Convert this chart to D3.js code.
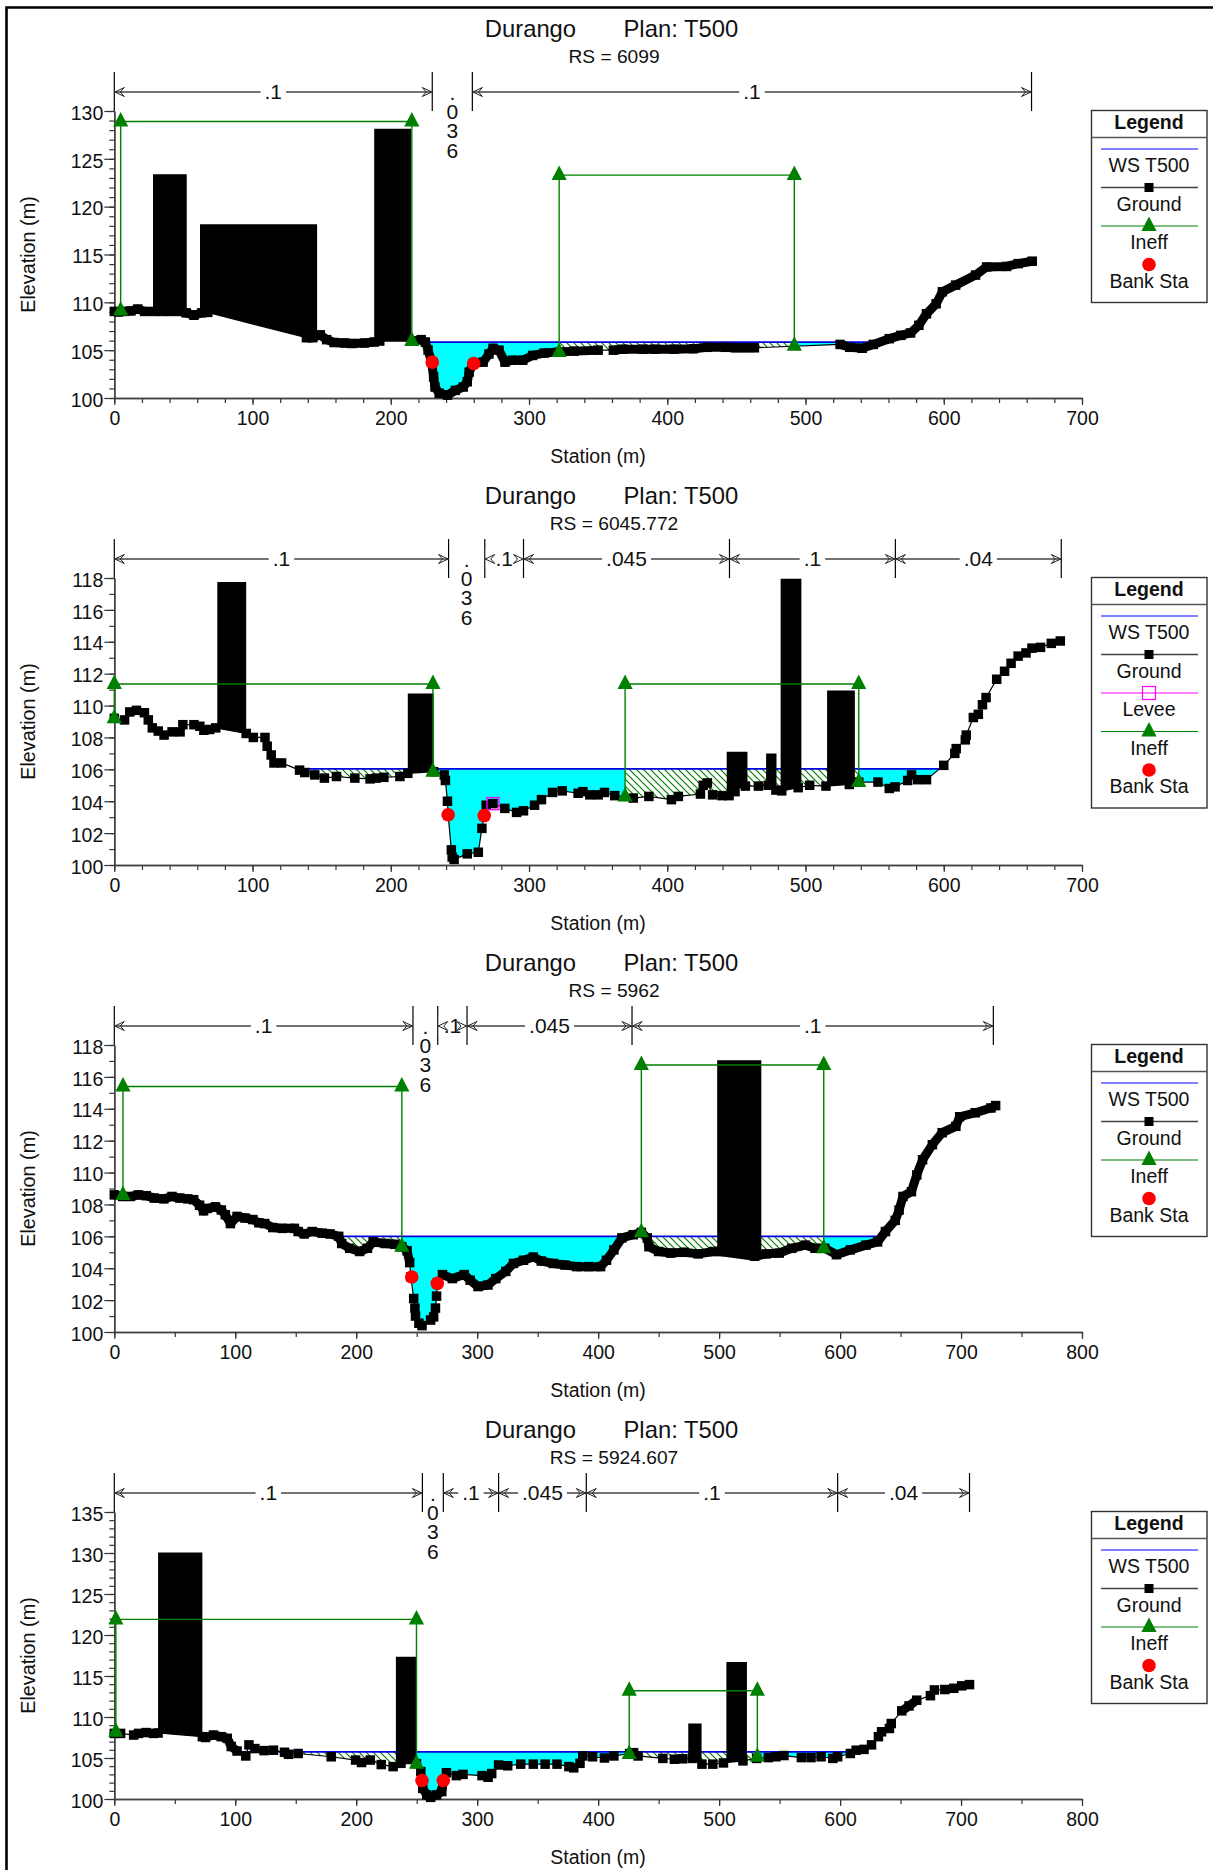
<!DOCTYPE html>
<html><head><meta charset="utf-8">
<script src="https://cdn.jsdelivr.net/npm/d3@7/dist/d3.min.js"></script>
<style>html,body{margin:0;padding:0;background:#fff}svg{display:block}text{font-family:"Liberation Sans",Arial,sans-serif;fill:#111}</style>
</head><body><svg id="c" width="1213" height="1870"></svg>
<script>
// ---------- data (station m, elevation m) ----------
const rsLabels = ["6099","6045.772","5962","5924.607"];
const xMax = [700,700,800,800];
const yMax = [130,118,118,135];
const yMajorStep = [5,2,2,5];
const xMinorStep = [20,20,50,50];
const wsElev = [105.85,106.03,106.0,105.75];
const wsSpans = [[[158,184],[215,555]],[[132,597]],[[185.5,634]],[[105.5,612]]];
const ground1 = [[0,109.05],[3,109],[7,109.05],[12,109.1],[17,109.3],[22,109.05],[29,109.05],[35,109.05],[41,109.05],[47.6,109.05],[52,108.9],[57.6,108.65],[63.3,108.9],[67.6,108.95],[139,106.3],[143.5,106.3],[149,106.6],[153.6,106.1],[159,105.8],[166.5,105.75],[172,105.7],[181,105.75],[188,105.85],[192,105.95],[215,105.95],[222,106.1],[225,105.85],[227,105],[229.5,103.75],[231,102.2],[232,101.15],[235,100.5],[241,100.3],[246.7,100.8],[252.4,101.15],[255.3,101.7],[256.7,102.7],[259.6,103.6],[266.8,103.75],[271,104.6],[274,105.2],[278.3,105],[282.6,103.75],[288,103.95],[295.5,103.95],[302.6,104.45],[311,104.7],[321.8,104.8],[332.7,104.9],[350,105],[361,105],[368,105.1],[382.5,105.1],[391,105.1],[405,105.1],[419,105.15],[429,105.3],[442,105.3],[449,105.25],[456,105.25],[463,105.25],[525,105.6],[532,105.3],[541,105.2],[549,105.6],[560.6,106.2],[569,106.55],[576,106.8],[582,107.6],[587.5,108.8],[594.5,109.85],[599,111.1],[608.6,111.8],[623,112.85],[631,113.7],[645.4,113.75],[653.9,114.05],[664,114.3]];
const ground2 = [[0,109.2],[7.4,109.1],[11.2,109.6],[16,109.7],[21.8,109.55],[24.6,109.1],[27.5,108.6],[31.8,108.4],[36,108.15],[41.8,108.35],[47.6,108.35],[49.6,108.8],[57.6,108.8],[61.9,108.7],[64.8,108.45],[69,108.5],[73.4,108.6],[95.4,108.25],[100.6,108],[109,108],[110.6,107.45],[113.5,106.9],[115.5,106.4],[121,106.4],[134,105.95],[137.8,105.8],[145,105.65],[152,105.45],[160.7,105.55],[174,105.45],[185,105.4],[189.4,105.45],[195,105.5],[206.6,105.55],[212.3,105.75],[231,105.85],[238.7,105.65],[239.5,105.3],[241,104],[241.5,103.15],[243.8,100.95],[244.4,100.5],[245.8,100.35],[255.3,100.7],[263.3,100.8],[265.9,102.3],[267.6,103.1],[269,103.75],[273.9,103.85],[282.5,103.55],[291,103.3],[296,103.4],[304,103.75],[309,104.1],[317,104.55],[324,104.65],[335.5,104.5],[339,104.6],[344,104.4],[350,104.4],[354.6,104.55],[362,104.35],[375.4,104.2],[386.7,104.3],[403,104.1],[408,104.3],[424,104.45],[426,105],[429,105.15],[432.8,104.4],[439.6,104.35],[444.7,104.35],[449,104.6],[451,105.1],[456.5,104.95],[465.9,104.95],[473,105],[478.6,104.7],[482.8,104.65],[494.7,104.85],[503,105],[514.8,104.95],[531.7,105.05],[538.5,105.2],[552.4,105.2],[560.6,104.8],[564.8,104.9],[573.9,105.3],[576.7,105.65],[581.2,105.35],[587.5,105.35],[600,106.25],[608,107],[609,107.3],[615.6,107.85],[616.3,108.15],[621.4,109.25],[625,109.45],[628,110.05],[630.6,110.5],[638.3,111.65],[644,112.15],[648.7,112.65],[653.8,113.1],[659.5,113.3],[663.8,113.6],[670,113.65],[677.8,113.9],[684.3,114.05]];
const ground3 = [[0,108.6],[6.9,108.5],[13.4,108.5],[19.9,108.6],[26.4,108.55],[33,108.4],[41,108.35],[47.7,108.5],[54.2,108.4],[60.7,108.35],[65.6,108.3],[70.5,107.95],[73.8,107.6],[77,107.75],[83.6,107.85],[88.5,107.65],[91.8,107.35],[96,106.8],[101.5,107.25],[108,107.15],[114.6,107.05],[119.5,106.85],[124.4,106.8],[131,106.55],[139,106.5],[148.9,106.5],[152,106.3],[157,106.15],[163.6,106.3],[171.8,106.2],[178.3,106.15],[185.5,106],[188,105.55],[194.6,105.25],[202.8,105.05],[209.3,105.25],[214,105.65],[224,105.55],[232,105.5],[237.7,105.35],[242,105.1],[244.2,104.35],[245.2,103.45],[247.5,102.1],[248.5,101.5],[249,101],[251.8,100.55],[254.4,100.4],[261.5,100.75],[264,100.95],[265.5,101.5],[266.4,102.25],[267,103.05],[271.3,103.6],[279.5,103.35],[289.3,103.6],[294.2,103.25],[300.7,102.85],[308.9,102.95],[315.4,103.35],[323.6,103.8],[330,104.3],[338.3,104.5],[346.4,104.7],[353,104.45],[362.8,104.3],[372.6,104.2],[382.4,104.1],[392.2,104.1],[402,104.1],[406.9,104.5],[413,105.15],[419.6,105.9],[429,106.1],[435.7,106.25],[440.6,105.9],[442,105.35],[450,105.05],[460,104.95],[471,105],[482.7,104.9],[495.5,105.05],[500,105.05],[529.4,104.75],[539,104.9],[549.7,104.95],[560,105.25],[571.4,105.45],[579.4,105.25],[587.4,105.25],[597,104.85],[608.5,105.15],[621.4,105.45],[631,105.65],[637.5,106.3],[645.6,107],[648.8,107.65],[652,108.5],[659,108.8],[663.4,109.85],[668.2,110.8],[676.3,111.75],[684.4,112.5],[695.7,112.9],[698.9,113.5],[711.8,113.75],[724.7,114.05],[728.6,114.2]];
const ground4 = [[0,108],[5.2,108],[16,107.8],[20,108],[26.4,108.1],[32.3,108],[36.2,108.05],[72.8,107.6],[75.4,107.5],[82,107.8],[88.5,107.6],[93.4,107.4],[96.7,106.4],[101.5,105.85],[108.7,105.25],[111.3,106.6],[116.2,106.15],[123.8,105.9],[131.6,105.95],[140.7,105.7],[144,105.45],[152,105.55],[179.3,105.15],[199.5,104.75],[204.4,104.45],[211.6,104.75],[220.7,104.2],[230.5,103.95],[237,104.35],[249.8,104.3],[253.4,103.35],[254.4,102.25],[255,101.3],[258.3,100.5],[261.5,100.2],[266.4,100.5],[270.7,100.9],[272,102.25],[274.6,103.2],[282.8,102.85],[288.3,103],[304,102.85],[309,102.65],[312,103.1],[317.7,104.15],[325.2,104.05],[336,104.25],[346.4,104.25],[356.2,104.25],[366,104.25],[375.8,103.95],[379.8,103.8],[385,104.35],[387.3,105.25],[395.4,105.15],[405.2,105],[413,105.25],[426,105.55],[429.3,105.65],[433,105.25],[453.5,104.95],[463,104.85],[469.6,104.9],[477.7,104.95],[485.8,104.25],[494.8,104.25],[503.6,104.4],[519.7,104.65],[531,104.95],[540.7,105.05],[547,105.15],[553.6,105.3],[568,105.05],[576,105.05],[584.3,105.15],[594,104.95],[598,105.15],[608.5,105.55],[613.3,105.95],[619.8,106.05],[626,106.6],[631.7,107.6],[634.3,108.2],[640.8,108.6],[642.3,109.2],[651,110.75],[657,111.35],[663.4,112.05],[674.7,112.6],[678,113.3],[686.6,113.35],[694,113.5],[700.5,113.8],[707,113.95]];
const grounds = [ground1,ground2,ground3,ground4];
// continuous runs of overlapping ground points (stations)
const denseRuns = [[[0,67.6],[139,188],[215,350],[361,463],[525,664]],[],[[0,244.2],[271.3,402],[402,442],[442,728.6]],[[75.4,101.5],[254.4,272],[651,663.4]]];
// blocked obstructions: station from, station to, top elevation
const blocks = [
 [[28,52.4,123.4],[62,146.7,118.15],[188,214.6,128.15]],
 [[74.5,95.4,117.75],[212.3,231,110.75],[443,458,107.1],[471.5,479,107],[482,497,117.95],[515.6,535.7,110.95]],
 [[498.4,534.9,117.05]],
 [[36.2,72.8,130.05],[232.8,249.8,117.35],[474.5,485.5,109.2],[506,523,116.7]]
];
// ineffective flow: station left, station right, top, ground left, ground right
const ineff = [
 [[4.6,215.2,128.9,109.15,105.95],[321.8,491.9,123.3,104.8,105.45]],
 [[0,230.5,111.35,109.2,105.85],[369.5,538.5,111.35,104.3,105.2]],
 [[7.2,237.7,115.4,108.6,105.35],[435.7,586.5,116.75,106.25,105.25]],
 [[1.3,249.8,121.9,108.2,104.3],[425.7,531.6,113.2,105.5,105.15]]
];
const bankSta = [[[230,103.75],[260,103.6]],[[241.5,103.15],[267.6,103.1]],[[245.9,103.45],[267,103.05]],[[254.4,102.25],[272,102.25]]];
const levee = [[],[[273.9,103.85]],[],[]];
const nStations = [[0,230,259,663.5],[0,241.8,268,296,445,565,685],[0,246.9,267.4,291.6,428,726.7],[0,254.7,272,317.7,390.2,598,707]];
const nValues = [[".1",".036",".1"],[".1",".036",".1",".045",".1",".04"],[".1",".036",".1",".045",".1"],[".1",".036",".1",".045",".1",".04"]];
const legendItems = [["WS T500","Ground","Ineff","Bank Sta"],["WS T500","Ground","Levee","Ineff","Bank Sta"],["WS T500","Ground","Ineff","Bank Sta"],["WS T500","Ground","Ineff","Bank Sta"]];

// ---------- drawing ----------
const bases = [398,865,1332,1799];
const svg = d3.select("#c");
const defs = svg.append("defs");
const pat = defs.append("pattern").attr("id","hatch").attr("width",7).attr("height",7).attr("patternUnits","userSpaceOnUse");
pat.append("rect").attr("width",7).attr("height",7).attr("fill","#fff");
pat.append("path").attr("d","M-1,-1L8,8M-1,6L1,8M6,-1L8,1").attr("stroke","#008000").attr("stroke-width",1.2).attr("fill","none");
svg.append("path").attr("d","M6.5,1870V7.5H1213").attr("fill","none").attr("stroke","#000").attr("stroke-width",2.6);

const X0=114.3,X1=1082,GREEN="#008000",FS=19.5,NFS=21;
const triPath=(x,y)=>`M${x},${y-9.5}L${x+7.6},${y+5}L${x-7.6},${y+5}Z`;

bases.forEach((base,i)=>{
  const g = svg.append("g");
  const top = base-287;
  const x = d3.scaleLinear().domain([0,xMax[i]]).range([X0,X1]);
  const y = d3.scaleLinear().domain([100,yMax[i]]).range([base,top]);
  const ground = grounds[i], ws = wsElev[i];
  const gAt = s=>{
    const j = d3.bisector(d=>d[0]).right(ground,s);
    if(j<=0) return ground[0][1];
    if(j>=ground.length) return ground[ground.length-1][1];
    const a=ground[j-1],b=ground[j];
    return a[1]+(b[1]-a[1])*(s-a[0])/(b[0]-a[0]);
  };
  // titles
  g.append("text").attr("x",484.8).attr("y",base-361.5).attr("font-size",23.8).text("Durango");
  g.append("text").attr("x",623.5).attr("y",base-361.5).attr("font-size",23.8).text("Plan: T500");
  g.append("text").attr("x",614).attr("y",base-335).attr("text-anchor","middle").attr("font-size",19.2).text("RS = "+rsLabels[i]);
  g.append("text").attr("x",598).attr("y",base+65).attr("text-anchor","middle").attr("font-size",FS).text("Station (m)");
  g.append("text").attr("transform",`translate(35,${base-143.5}) rotate(-90)`).attr("text-anchor","middle").attr("font-size",FS+.3).text("Elevation (m)");

  // water fill: ground with its WS crossings inserted
  const pts=[];
  ground.forEach((p,k)=>{
    if(k>0){const a=ground[k-1];
      if((a[1]-ws)*(p[1]-ws)<0) pts.push([a[0]+(p[0]-a[0])*(ws-a[1])/(p[1]-a[1]),ws]);}
    pts.push(p);
  });
  const area=d3.area().x(d=>x(d[0])).y0(d=>y(Math.min(d[1],ws))).y1(y(ws));
  const hid="h"+i,cid="e"+i;
  const hc=defs.append("clipPath").attr("id",hid), cc=defs.append("clipPath").attr("id",cid);
  let prev=0;
  ineff[i].forEach(b=>{
    hc.append("rect").attr("x",x(b[0])).attr("width",x(b[1])-x(b[0])).attr("y",0).attr("height",1870);
    cc.append("rect").attr("x",x(prev)).attr("width",x(b[0])-x(prev)).attr("y",0).attr("height",1870);
    prev=b[1];
  });
  cc.append("rect").attr("x",x(prev)).attr("width",x(xMax[i])-x(prev)).attr("y",0).attr("height",1870);
  g.append("path").attr("d",area(pts)).attr("fill","#00ffff").attr("clip-path",`url(#${cid})`);
  g.append("path").attr("d",area(pts)).attr("fill","url(#hatch)").attr("clip-path",`url(#${hid})`);
  // water line
  wsSpans[i].forEach(s=>g.append("line").attr("x1",x(s[0])).attr("x2",x(s[1])).attr("y1",y(ws)).attr("y2",y(ws)).attr("stroke","#0000e0").attr("stroke-width",1.8));

  // axes
  const gy=g.append("g").attr("transform",`translate(${X0},0)`);
  const yMin=d3.range(100,yMax[i]+.01,1);
  gy.call(d3.axisLeft(y).tickValues(yMin).tickSize(5).tickSizeOuter(0).tickFormat(""));
  gy.append("g").call(d3.axisLeft(y).tickValues(d3.range(100,yMax[i]+.01,yMajorStep[i])).tickSize(10).tickSizeOuter(0).tickPadding(1).tickFormat(d3.format("d")));
  const gx=g.append("g").attr("transform",`translate(0,${base})`);
  gx.call(d3.axisBottom(x).tickValues(d3.range(0,xMax[i]+.01,xMinorStep[i])).tickSize(5).tickSizeOuter(0).tickFormat(""));
  gx.append("g").call(d3.axisBottom(x).tickValues(d3.range(0,xMax[i]+.01,100)).tickSize(7).tickSizeOuter(0).tickPadding(6.5).tickFormat(d3.format("d")));
  g.selectAll(".domain").attr("stroke","#444").attr("stroke-width",1.5);
  g.selectAll(".tick line").attr("stroke","#333").attr("stroke-width",1.2);
  g.selectAll(".tick text").attr("font-size",FS).attr("fill","#111").style("font-family",'"Liberation Sans",Arial,sans-serif');
  gy.selectAll(".tick text").attr("dy","0.42em");

  // blocked obstructions
  blocks[i].forEach(b=>{
    const s=[[b[0],gAt(b[0])],...ground.filter(p=>p[0]>b[0]&&p[0]<b[1]),[b[1],gAt(b[1])]];
    g.append("path").attr("d",d3.area().x(d=>x(d[0])).y0(d=>y(d[1])).y1(y(b[2]))(s)).attr("fill","#000");
  });
  // ground
  const line=d3.line().x(d=>x(d[0])).y(d=>y(d[1]));
  g.append("path").attr("d",line(ground)).attr("fill","none").attr("stroke","#000").attr("stroke-width",1.2);
  denseRuns[i].forEach(r=>{
    g.append("path").attr("d",line(ground.filter(p=>p[0]>=r[0]&&p[0]<=r[1]))).attr("fill","none").attr("stroke","#000").attr("stroke-width",9).attr("stroke-linejoin","round");
  });
  g.selectAll(null).data(ground).join("rect").attr("x",d=>x(d[0])-4.75).attr("y",d=>y(d[1])-4.75).attr("width",9.5).attr("height",9.5).attr("fill","#000");
  // levee
  levee[i].forEach(l=>g.append("rect").attr("x",x(l[0])-6).attr("y",y(l[1])-6).attr("width",12).attr("height",12).attr("fill","none").attr("stroke","#ff00ff").attr("stroke-width",1.4));
  // ineffective flow
  ineff[i].forEach(b=>{
    const [l,r,t,gl,gr]=b;
    g.append("path").attr("d",`M${x(l)},${y(gl)}V${y(t)}H${x(r)}V${y(gr)}`).attr("fill","none").attr("stroke",GREEN).attr("stroke-width",1.4);
    [[l,t],[r,t],[l,gl],[r,gr]].forEach(p=>g.append("path").attr("d",triPath(x(p[0]),y(p[1]))).attr("fill",GREEN));
  });
  // bank stations
  g.selectAll(null).data(bankSta[i]).join("circle").attr("cx",d=>x(d[0])).attr("cy",d=>y(d[1])).attr("r",6.8).attr("fill","#ff0000");

  // Manning n band
  const ny=base-306, st=nStations[i];
  st.forEach(s=>g.append("line").attr("x1",x(s)).attr("x2",x(s)).attr("y1",base-326).attr("y2",base-287).attr("stroke","#000").attr("stroke-width",1.2));
  nValues[i].forEach((lab,k)=>{
    const a=x(st[k]),b=x(st[k+1]),m=(a+b)/2;
    const tw=lab.split("").reduce((t,c)=>t+(c==="."?5.8:11.7),0);
    if(tw+12>b-a && lab.length>2){
      const vt=g.append("text").attr("y",base-298).attr("text-anchor","middle").attr("font-size",NFS);
      lab.split("").forEach((ch,q)=>vt.append("tspan").attr("x",m).attr("dy",q?19.2:0).text(ch));
      return;
    }
    g.append("line").attr("x1",a).attr("x2",b).attr("y1",ny).attr("y2",ny).attr("stroke","#444").attr("stroke-width",1.6);
    const roomy=(b-a)-tw>24;
    if(roomy) g.append("rect").attr("x",m-tw/2-4).attr("y",ny-10).attr("width",tw+8).attr("height",20).attr("fill","#fff");
    else g.append("rect").attr("x",a+1).attr("y",ny-10).attr("width",b-a-2).attr("height",20).attr("fill","#fff");
    g.append("text").attr("x",m).attr("y",base-299).attr("text-anchor","middle").attr("font-size",NFS).text(lab);
    g.append("path").attr("d",`M${a+10},${ny-4.5}L${a+.5},${ny}L${a+10},${ny+4.5}L${a+6},${ny}ZM${b-10},${ny-4.5}L${b-.5},${ny}L${b-10},${ny+4.5}L${b-6},${ny}Z`).attr("fill","none").attr("stroke","#222").attr("stroke-width",1);
  });

  // legend
  const items=legendItems[i], LT=base-287.5, STEP=38.5, LX0=1091.5,LX1=1207,LC=1149;
  const LB=LT+38+items.length*STEP;
  g.append("rect").attr("x",LX0).attr("y",LT).attr("width",LX1-LX0).attr("height",LB-LT).attr("fill","#fff").attr("stroke","#333").attr("stroke-width",1.4);
  g.append("line").attr("x1",LX0).attr("x2",LX1).attr("y1",LT+27).attr("y2",LT+27).attr("stroke","#555").attr("stroke-width",1.5);
  g.append("text").attr("x",LC).attr("y",LT+18.5).attr("text-anchor","middle").attr("font-size",FS).attr("font-weight","bold").text("Legend");
  items.forEach((it,k)=>{
    const ly=LT+38.5+k*STEP;
    const tx=ly+23;
    if(it!=="Bank Sta"){
      const col={"WS T500":"#0000ff","Ground":"#444","Levee":"#ff00ff","Ineff":GREEN}[it];
      g.append("line").attr("x1",1101).attr("x2",1198).attr("y1",ly).attr("y2",ly).attr("stroke",col).attr("stroke-width",it==="Ground"?1.6:1.2);
    }
    if(it==="Ground") g.append("rect").attr("x",LC-4.5).attr("y",ly-4.5).attr("width",9).attr("height",9).attr("fill","#000");
    if(it==="Levee") g.append("rect").attr("x",LC-6.5).attr("y",ly-6.5).attr("width",13).attr("height",13).attr("fill","none").attr("stroke","#ff00ff").attr("stroke-width",1.2);
    if(it==="Ineff") g.append("path").attr("d",triPath(LC,ly)).attr("fill",GREEN);
    if(it==="Bank Sta") g.append("circle").attr("cx",LC).attr("cy",ly).attr("r",6.8).attr("fill","#ff0000");
    g.append("text").attr("x",LC).attr("y",tx).attr("text-anchor","middle").attr("font-size",FS).text(it);
  });
});
</script></body></html>
